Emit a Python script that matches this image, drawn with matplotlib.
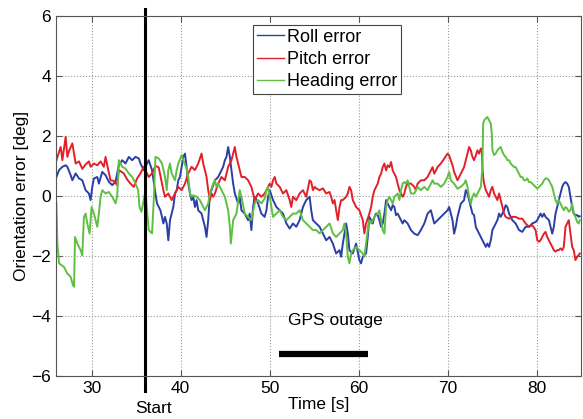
import matplotlib
matplotlib.use("Agg")
import matplotlib.pyplot as plt

plt.rcParams['font.family'] = ['Liberation Sans', 'DejaVu Sans']

# time [s] and orientation errors [deg]
roll_t = [26.05, 26.35, 26.72, 27.09, 27.28, 27.65, 27.84, 28.21, 28.59, 28.96, 29.33, 29.7, 29.89,
          30.08, 30.26, 30.64, 30.82, 31.2, 31.57, 31.94, 32.32, 32.69, 33.06, 33.44, 33.81, 34.18,
          34.56, 34.93, 35.3, 35.49, 35.86, 36.23, 36.42, 36.79, 37.17, 37.35, 37.73, 37.91,
          38.06, 38.25, 38.44, 38.62, 38.81, 39.0, 39.18, 39.37, 39.56, 39.74, 39.93, 40.12, 40.3,
          40.49, 40.67, 40.86, 41.05, 41.23, 41.42, 41.61, 41.79, 41.98, 42.35, 42.54, 42.73, 42.91,
          43.1, 43.29, 43.47, 43.85, 44.22, 44.59, 44.78, 44.97, 45.15, 45.34, 45.53, 45.71, 45.9,
          46.09, 46.46, 46.64, 46.83, 47.2, 47.58, 47.76, 47.95, 48.14, 48.32, 48.7, 49.07, 49.44,
          49.64, 49.82, 50.01, 50.38, 50.76, 51.13, 51.5, 51.88, 52.25, 52.62, 52.99, 53.37, 53.74,
          54.11, 54.49, 54.67, 54.86, 55.23, 55.61, 55.98, 56.35, 56.73, 57.1, 57.47, 57.85, 58.03,
          58.22, 58.59, 58.78, 58.96, 59.34, 59.71, 60.08, 60.27, 60.46, 60.83, 61.02, 61.2,
          61.4, 61.58, 61.77, 61.96, 62.14, 62.33, 62.52, 62.7, 62.89, 63.08, 63.26, 63.45, 63.64,
          63.82, 64.01, 64.19, 64.38, 64.57, 64.75, 64.94, 65.13, 65.5, 65.87, 66.25, 66.62, 66.99,
          67.37, 67.74, 68.11, 68.3, 68.49, 68.86, 69.23, 69.61, 69.98, 70.16, 70.35, 70.54, 70.72,
          70.91, 71.1, 71.47, 71.84, 72.03, 72.22, 72.4, 72.59, 72.78, 72.96,
          73.16, 73.34, 73.53, 73.72, 73.9, 74.09, 74.28, 74.46, 74.65, 74.84, 75.02, 75.21, 75.4,
          75.58, 75.77, 75.95, 76.14, 76.33, 76.51, 76.7, 76.89, 77.07, 77.26, 77.63, 78.01, 78.38,
          78.75, 79.13, 79.5, 79.87, 80.06, 80.25, 80.43, 80.62, 80.81, 80.99, 81.37, 81.55, 81.74,
          81.92, 82.11, 82.3, 82.48, 82.67, 82.86, 83.04, 83.23, 83.42, 83.6, 83.79, 83.98, 84.16,
          84.35, 84.54, 84.72, 84.83]
roll = [0.63, 0.86, 0.97, 1.02, 0.97, 0.69, 0.52, 0.75, 0.58, 0.52, 0.19, 0.08, -0.14,
        0.30, 0.58, 0.63, 0.41, 0.80, 0.69, 0.47, 0.36, 0.47, 1.02, 1.19, 1.08, 1.30,
        1.19, 1.30, 1.25, 1.08, 0.86, 1.08, 1.19, 0.86, 0.08, -0.25, -0.48, -0.70,
        -0.92, -0.70, -0.92, -1.48, -0.81, -0.59, -0.37, 0.08, 0.19, 0.52, 0.63, 0.97, 1.30,
        1.41, 0.97, 0.41, 0.08, -0.14, -0.03, -0.37, -0.14, -0.48, -0.59, -0.81, -1.03, -1.37,
        -0.81, 0.08, 0.19, 0.52, 0.63, 0.86, 0.97, 1.19, 1.30, 1.63, 1.30, 0.86, 0.41,
        0.08, -0.25, -0.03, -0.48, -0.59, -0.81, -0.59, -1.14, -0.37, -0.03, -0.25, -0.59, -0.70,
        -0.48, -0.03, 0.19, -0.14, -0.37, -0.48, -0.59, -0.92, -1.09, -0.92, -1.03, -0.81, -0.37,
        -0.14, -0.03, -0.48, -0.81, -0.92, -1.03, -1.25, -1.48, -1.37, -1.59, -1.92, -1.81, -2.03,
        -1.59, -0.92, -1.25, -1.81, -1.92, -1.59, -2.14, -2.25, -2.03, -1.92, -1.37, -0.70,
        -0.81, -0.92, -0.70, -0.59, -0.64, -0.81, -1.03, -0.92, -0.59, -0.14, -0.26, -0.37, -0.48,
        -0.31, -0.37, -0.64, -0.59, -0.70, -0.81, -0.92, -0.81, -0.92, -1.14, -1.26, -1.31, -1.14,
        -0.92, -0.59, -0.48, -0.70, -0.92, -0.81, -0.70, -0.59, -0.48, -0.37, -0.59, -0.81, -1.26,
        -1.03, -0.70, -0.26, -0.14, 0.19, 0.08, -0.14, -0.37, -0.59, -0.64,
        -1.04, -1.15, -1.26, -1.37, -1.48, -1.59, -1.70, -1.59, -1.70, -1.48, -1.14, -1.03, -0.92,
        -0.81, -0.59, -0.70, -0.59, -0.48, -0.31, -0.37, -0.59, -0.70, -0.81, -0.92, -1.14, -1.20,
        -1.03, -1.03, -0.92, -0.87, -0.81, -0.70, -0.59, -0.70, -0.59, -0.70, -0.81, -1.03, -1.26,
        -1.03, -0.59, -0.37, -0.14, 0.08, 0.30, 0.41, 0.46, 0.41, 0.30, -0.04, -0.37, -0.59,
        -0.64, -0.64, -0.70, -0.68]

pitch_t = [26.05, 26.53, 26.72, 27.09, 27.28, 27.47, 27.84, 28.21, 28.59, 28.96, 29.33, 29.7, 29.89,
           30.26, 30.64, 31.01, 31.38, 31.57, 31.76, 32.13, 32.5, 32.88, 33.06, 33.62, 33.99, 34.37,
           34.74, 35.11, 35.49, 35.86, 36.42, 36.79, 37.17, 37.54,
           38.06, 38.25, 38.62, 39.0, 39.37, 39.74, 40.12, 40.49, 40.86, 41.23, 41.61, 41.98, 42.35,
           42.54, 42.73, 42.91, 43.1, 43.29, 43.47, 43.66, 43.85, 44.22, 44.59, 44.97, 45.34, 45.71,
           46.09, 46.27, 46.46, 46.83, 47.2, 47.58, 47.95, 48.32, 48.7, 49.07, 49.44,
           49.64, 50.01, 50.2, 50.38, 50.57, 50.76, 51.13, 51.5, 51.88, 52.25, 52.43, 52.62, 52.99,
           53.37, 53.74, 54.11, 54.49, 54.67, 54.86, 55.05, 55.23, 55.61, 55.98, 56.35, 56.73, 56.91,
           57.1, 57.29, 57.47, 57.66, 57.85, 58.03, 58.22, 58.59, 58.78, 58.96, 59.15, 59.34, 59.71,
           60.08, 60.46, 60.64, 60.83, 61.2,
           61.4, 61.58, 61.77, 61.96, 62.14, 62.33, 62.52, 62.7, 62.89, 63.08, 63.26, 63.45, 63.64,
           63.82, 64.01, 64.19, 64.38, 64.57, 64.75, 64.94, 65.13, 65.31, 65.5, 65.87, 66.25, 66.43,
           66.62, 66.99, 67.37, 67.74, 68.11, 68.3, 68.49, 68.67, 68.86, 69.23, 69.61, 69.98, 70.16,
           70.35, 70.54, 70.72, 71.1, 71.28, 71.47, 71.84, 72.03, 72.22, 72.4, 72.59, 72.78, 72.96,
           73.16, 73.34, 73.53, 73.72, 73.83, 73.9, 73.98, 74.09, 74.28, 74.46, 74.65, 74.84, 75.02,
           75.21, 75.4, 75.58, 75.77, 75.95, 76.14, 76.33, 76.51, 76.89, 77.26, 77.63, 78.01, 78.38,
           78.75, 79.13, 79.5, 79.87, 80.06, 80.25, 80.43, 80.62, 80.81, 80.99, 81.18, 81.37, 81.55,
           81.74, 81.92, 82.11, 82.3, 82.48, 82.67, 82.86, 83.04, 83.23, 83.42, 83.6, 83.79, 83.98,
           84.16, 84.35, 84.54, 84.72, 84.83]
pitch = [1.19, 1.63, 1.19, 1.97, 1.30, 1.50, 1.75, 1.08, 1.15, 0.90, 1.05, 1.15, 0.97,
         1.08, 1.02, 1.15, 0.97, 1.30, 1.02, 0.52, 0.50, 0.36, 0.86, 0.75, 0.55, 0.41,
         0.30, 0.58, 0.75, 0.97, 0.63, 0.75, 1.00, 0.95,
         0.19, -0.03, 0.08, -0.14, 0.08, 0.30, 0.19, 0.41, 0.75, 0.97, 0.86, 1.08, 1.41,
         1.08, 0.86, 0.63, 0.19, -0.14, 0.08, -0.03, 0.08, 0.41, 0.63, 0.52, 0.97, 1.19,
         1.63, 1.30, 1.08, 0.63, 0.63, 0.52, 0.30, -0.14, 0.08, -0.03, 0.08,
         0.19, 0.41, 0.30, 0.52, 0.63, 0.41, 0.30, 0.08, 0.19, -0.14, -0.37, -0.03, -0.14,
         0.08, 0.19, -0.03, 0.52, 0.47, 0.19, 0.30, 0.25, 0.19, 0.25, 0.08, 0.13, -0.03,
         -0.25, -0.14, -0.48, -0.81, -0.37, -0.14, -0.14, -0.03, 0.08, 0.30, 0.19, -0.14, -0.37,
         -0.48, -0.81, -1.25, -0.92, -0.59,
         -0.37, -0.03, 0.19, 0.30, 0.41, 0.63, 0.74, 0.96, 1.08, 0.85, 1.02, 0.96, 1.13,
         0.85, 0.74, 0.63, 0.41, 0.19, 0.08, -0.03, 0.08, 0.30, 0.41, 0.41, 0.30, 0.19,
         0.41, 0.52, 0.52, 0.63, 0.85, 0.96, 0.74, 0.85, 0.96, 1.08, 1.24, 1.41, 1.35,
         1.19, 1.02, 0.80, 0.52, 0.63, 0.74, 0.96, 1.19, 1.41, 1.63, 1.52, 1.30, 1.19,
         1.35, 1.52, 1.41, 1.58, 1.52, 0.96, 0.63, 0.41, 0.19, 0.08, -0.03, 0.19, 0.30,
         0.08, -0.03, -0.14, 0.08, -0.14, -0.37, -0.59, -0.70, -0.76, -0.70, -0.70, -0.76, -0.76,
         -0.92, -1.03, -0.98, -1.14, -1.48, -1.53, -1.48, -1.37, -1.26, -1.20, -1.37, -1.48, -1.59,
         -1.70, -1.81, -1.86, -1.81, -1.81, -1.75, -1.81, -1.70, -1.03, -0.92, -0.81, -1.26, -1.70,
         -1.81, -2.14, -2.03, -1.97, -1.92]

heading_t = [26.05, 26.16, 26.35, 26.9, 27.28, 27.65, 27.91, 28.03, 28.14, 28.4, 28.77, 28.96, 29.14,
             29.33, 29.52, 29.78, 30.0, 30.26, 30.45, 30.64, 30.82, 31.01, 31.2, 31.57, 31.94, 32.32,
             32.69, 32.88, 33.06, 33.44, 33.81, 34.18, 34.56, 34.93, 35.23, 35.38, 35.6, 35.86, 36.05,
             36.23, 36.42, 36.79, 36.98, 37.17, 37.54, 37.91,
             38.25, 38.44, 38.62, 38.81, 39.0, 39.37, 39.56, 39.74, 40.12, 40.3, 40.67, 40.86, 41.05,
             41.23, 41.42, 41.79, 42.16, 42.54, 42.73, 43.1, 43.29, 43.66, 43.85, 44.03, 44.22, 44.59,
             44.97, 45.34, 45.53, 45.64, 45.9, 46.27, 46.64, 46.83, 47.2, 47.58, 47.95, 48.32, 48.7,
             49.07, 49.44,
             49.64, 49.82, 50.01, 50.2, 50.38, 50.76, 51.13, 51.5, 51.88, 52.25, 52.62, 52.99, 53.37,
             53.74, 54.11, 54.49, 54.86, 55.23, 55.61, 55.98, 56.35, 56.73, 57.1, 57.47, 57.85, 58.22,
             58.4, 58.59, 58.78, 58.96, 59.15, 59.34, 59.71, 60.08, 60.46, 60.64, 60.83, 61.02, 61.2,
             61.4, 61.77, 62.14, 62.33, 62.52, 62.7, 62.89, 63.08, 63.26, 63.45, 63.64, 63.82, 64.01,
             64.38, 64.57, 64.75, 64.94, 65.13, 65.31, 65.5, 65.69, 65.87, 66.25, 66.62, 66.99, 67.37,
             67.74, 68.11, 68.3, 68.49, 68.86, 69.23, 69.61, 69.98, 70.16, 70.35, 70.72, 71.1, 71.47,
             71.84, 72.03, 72.22, 72.4, 72.59, 72.78, 72.96,
             73.16, 73.34, 73.53, 73.72, 73.9, 73.98, 74.09, 74.28, 74.46, 74.65, 74.84, 74.95, 75.02,
             75.21, 75.4, 75.58, 75.77, 75.95, 76.14, 76.33, 76.51, 76.7, 76.89, 77.07, 77.26, 77.45,
             77.63, 77.82, 78.01, 78.19, 78.38, 78.57, 78.75, 78.94, 79.13, 79.31, 79.5, 79.69, 79.87,
             80.06, 80.25, 80.43, 80.62, 80.81, 80.99, 81.18, 81.37, 81.55, 81.74, 81.92, 82.11, 82.3,
             82.48, 82.67, 82.86, 83.04, 83.23, 83.42, 83.6, 83.79, 83.98, 84.16, 84.35, 84.54, 84.72,
             84.83]
heading = [-0.25, -1.59, -2.25, -2.37, -2.59, -2.70, -2.98, -3.03, -1.37, -1.59, -1.81, -1.98, -0.70,
           -0.59, -0.92, -1.26, -0.37, -0.59, -0.81, -1.03, -0.59, -0.03, 0.19, 0.08, 0.13, -0.03,
           -0.25, 0.00, 1.19, 0.97, 0.91, 0.75, 0.63, 0.41, 0.19, -0.37, -0.53, -0.14, 0.19,
           -0.48, -1.14, -1.25, -0.16, 1.30, 1.25, 1.08,
           0.63, 0.19, 0.86, 1.08, 0.75, 0.52, 0.86, 1.08, 1.36, 1.19, 0.91, 0.63, 0.08,
           -0.03, 0.02, -0.03, -0.14, -0.37, -0.48, -0.25, 0.08, 0.41, 0.52, 0.30, 0.41, 0.19,
           -0.03, -0.48, -1.03, -1.59, -0.81, -0.59, 0.19, -0.03, -0.59, -0.70, -0.81, -0.25, -0.14,
           -0.25, -0.09,
           0.19, 0.30, -0.03, -0.37, -0.70, -0.59, -0.48, -0.70, -0.81, -0.70, -0.59, -0.59, -0.48,
           -0.81, -0.92, -1.03, -1.14, -1.14, -1.25, -1.14, -1.03, -0.92, -1.25, -1.37, -1.25, -1.14,
           -0.92, -1.25, -2.03, -2.25, -1.92, -1.81, -1.70, -1.81, -1.92, -2.03, -1.59, -1.14, -0.81,
           -0.92, -0.70, -0.59, -0.48, -0.81, -1.14, -1.26, -0.37, -0.14, -0.03, -0.14, -0.26, -0.03,
           0.08, -0.14, 0.19, 0.41, 0.46, 0.41, 0.52, 0.30, 0.08, 0.08, 0.30, 0.19, 0.30,
           0.19, 0.41, 0.52, 0.41, 0.41, 0.30, 0.41, 0.63, 0.80, 0.52, 0.41, 0.24, 0.30,
           0.41, 0.52, 0.30, -0.03, -0.26, -0.03, 0.08,
           -0.03, 0.08, 0.19, 0.30, 0.96, 2.41, 2.52, 2.58, 2.63, 2.52, 2.41, 2.08, 1.52,
           1.36, 1.41, 1.52, 1.58, 1.63, 1.47, 1.36, 1.30, 1.19, 1.19, 1.08, 1.02, 0.96,
           0.96, 0.85, 0.74, 0.63, 0.63, 0.52, 0.52, 0.58, 0.46, 0.46, 0.41, 0.35, 0.30,
           0.24, 0.30, 0.35, 0.41, 0.52, 0.58, 0.58, 0.52, 0.41, 0.30, 0.08, -0.14, -0.26,
           -0.14, -0.26, -0.37, -0.48, -0.37, -0.42, -0.53, -0.48, -0.26, -0.59, -0.70, -0.87, -0.92,
           -0.81]

start_time = 36
outage = [51.1, 61.1]

fig = plt.figure(figsize=(5.83, 4.19), dpi=100)
ax = fig.add_axes([0.096, 0.103, 0.901, 0.859])

ax.plot(roll_t, roll, color='#2b3fa6', lw=1.4, label='Roll error')
ax.plot(pitch_t, pitch, color='#e3202a', lw=1.4, label='Pitch error')
ax.plot(heading_t, heading, color='#5fbf42', lw=1.4, label='Heading error')

ax.plot([start_time, start_time], [6.22, -6.5], color='black', lw=2.2, clip_on=False)
ax.plot(outage, [-5.27, -5.27], color='black', lw=4.5, solid_capstyle='butt')
ax.text(57.4, -4.15, 'GPS outage', ha='center', va='center', fontsize=12.5)
ax.text(37.0, -7.1, 'Start', ha='center', va='center', fontsize=12.5)

ax.set_xlim(26, 85)
ax.set_ylim(-6, 6)
ax.set_xticks([30, 40, 50, 60, 70, 80])
ax.set_yticks([-6, -4, -2, 0, 2, 4, 6])
ax.tick_params(direction='in', top=True, right=True, labelsize=12.5, length=4, color='#555555')
ax.grid(True, linestyle=':', color='#999999', lw=0.8)
for s in ax.spines.values():
    s.set_color('#555555')
    s.set_linewidth(0.8)

ax.set_xlabel('Time [s]', fontsize=12.5, labelpad=1)
ax.set_ylabel('Orientation error [deg]', fontsize=12.5, labelpad=2)

leg = ax.legend(loc='upper center', bbox_to_anchor=(0.516, 0.975), fontsize=13,
                handlelength=1.5, handletextpad=0.15, labelspacing=0.3, borderpad=0.2,
                borderaxespad=0, fancybox=False, framealpha=1)
leg.get_frame().set_edgecolor('#444444')
leg.get_frame().set_linewidth(0.8)
for line in leg.get_lines():
    line.set_linewidth(1.0)

fig.savefig('out.png', dpi=100)
